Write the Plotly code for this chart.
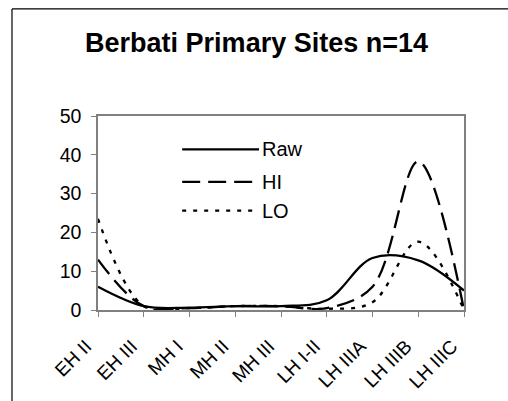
import plotly.graph_objects as go

categories = ["EH II", "EH III", "MH I", "MH II", "MH III", "LH I-II", "LH IIIA", "LH IIIB", "LH IIIC"]
raw_values = [6, 1, 0.6, 1, 1, 2.5, 13.4, 12.8, 5]
hi_values = [13, 1, 0.5, 1, 1, 0.5, 6, 38.3, 0]
lo_values = [23.5, 1, 0.5, 1, 1, 0.3, 2, 17.6, 0]
y_ticks = [0, 10, 20, 30, 40, 50]
series_names = ["Raw", "HI", "LO"]

FONT = "Arial, Liberation Sans, sans-serif"
dashes = ["solid", "18px,8px", "4px,7px"]
all_values = [raw_values, hi_values, lo_values]

fig = go.Figure()
for name, vals, dash in zip(series_names, all_values, dashes):
    fig.add_trace(go.Scatter(
        x=categories, y=vals, name=name, mode="lines",
        line=dict(color="black", width=2.3, dash=dash, shape="spline", smoothing=1.0),
        showlegend=False, cliponaxis=True,
    ))

# manual legend (long line samples like the original)
leg_x0, leg_x1 = 0.23, 0.44
leg_ys = [0.828, 0.66, 0.512]
for name, dash, ly in zip(series_names, dashes, leg_ys):
    fig.add_shape(type="line", xref="paper", yref="paper", x0=leg_x0, x1=leg_x1, y0=ly, y1=ly,
                  line=dict(color="black", width=2.3, dash=dash))
    fig.add_annotation(xref="paper", yref="paper", x=leg_x1, y=ly, text=name, showarrow=False,
                       xanchor="left", yanchor="middle", xshift=1,
                       font=dict(family=FONT, size=20, color="black"))

# outer chart frame (top + left edges visible)
fig.add_shape(type="line", xref="paper", yref="paper", x0=-0.235, x1=1.3, y0=1.552, y1=1.552,
              line=dict(color="black", width=1.2))
fig.add_shape(type="line", xref="paper", yref="paper", x0=-0.235, x1=-0.235, y0=1.552, y1=-0.6,
              line=dict(color="black", width=1.2))

fig.update_layout(
    width=508, height=401,
    margin=dict(l=98, r=44, t=115.5, b=90.7),
    paper_bgcolor="white", plot_bgcolor="white",
    title=dict(text="<b>Berbati Primary Sites n=14</b>", x=0.505, xanchor="center",
               y=0.893, yanchor="middle",
               font=dict(family=FONT, size=27, color="black")),
    font=dict(family=FONT, color="black"),
    xaxis=dict(type="category", range=[0, 8], showgrid=False, zeroline=False, automargin=False,
               showline=True, linecolor="#808080", linewidth=1.5, mirror=True,
               ticks="outside", ticklen=5, tickcolor="#808080", tickangle=-45,
               ticklabelstandoff=11, ticklabelshift=-12,
               tickfont=dict(family=FONT, size=19, color="black")),
    yaxis=dict(range=[0, 50], tickvals=y_ticks, showgrid=False, zeroline=False, automargin=False,
               showline=True, linecolor="#808080", linewidth=1.5, mirror=True,
               ticks="outside", ticklen=5, tickcolor="#808080", ticklabelstandoff=6,
               tickfont=dict(family=FONT, size=19.5, color="black")),
)

fig.write_html("out.html", config={"displayModeBar": False},
               post_script="document.body.style.margin='0';document.body.style.overflow='hidden';")
